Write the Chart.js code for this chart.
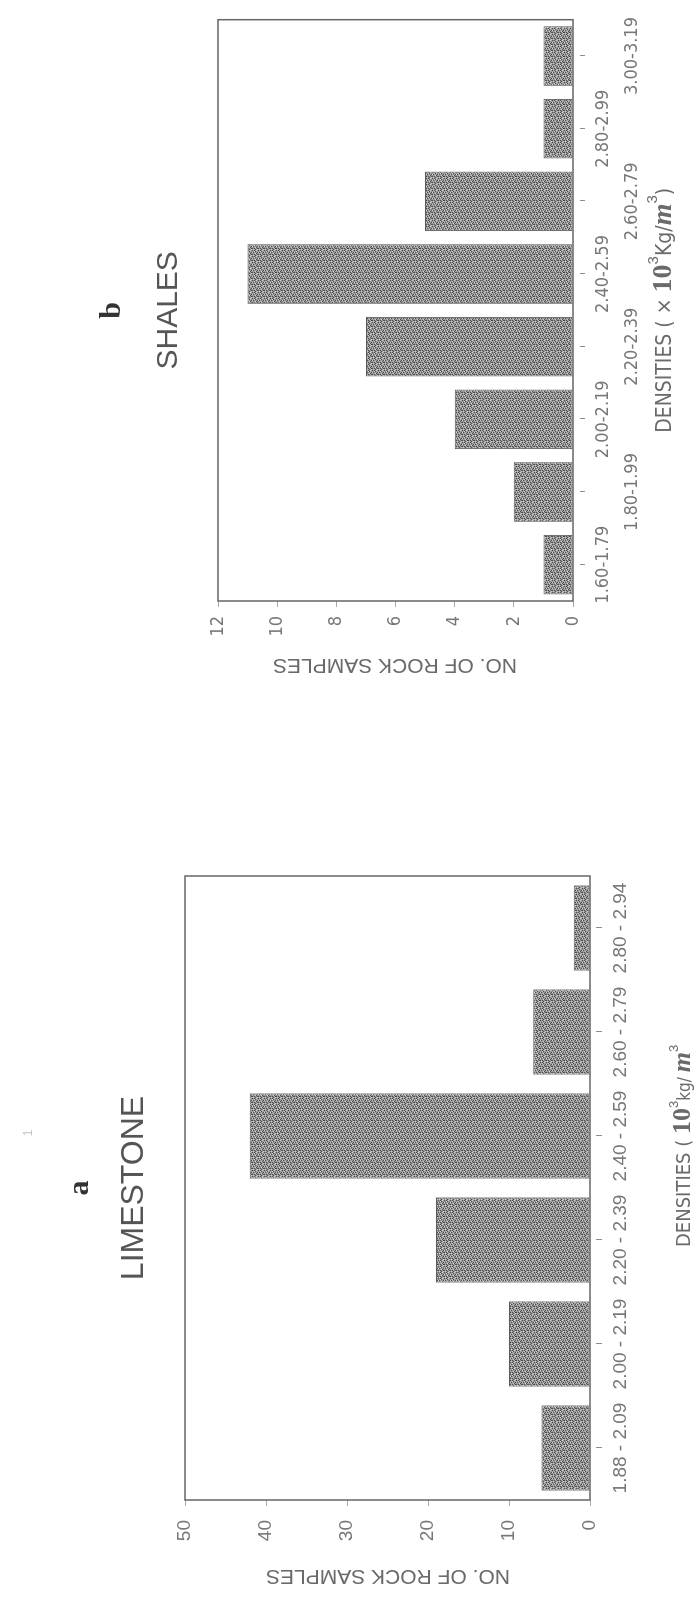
<!DOCTYPE html>
<html>
<head>
<meta charset="utf-8">
<script src="https://cdn.jsdelivr.net/npm/chart.js@4/dist/chart.umd.min.js"></script>
<style>
  html, body { margin: 0; padding: 0; background: #fff; }
  body { width: 698px; height: 1608px; overflow: hidden; position: relative; }
  /* the two histograms sit side by side on a landscape sheet, turned onto the portrait page */
  #sheet { position: absolute; left: 0; top: 0; width: 1608px; height: 698px;
    transform-origin: 0 0; transform: translateY(1608px) rotate(-90deg); }
  #sheet canvas { position: absolute; top: 0; }
  #limeCanvas { left: 0; }
  #shaleCanvas { left: 800px; }
</style>
</head>
<body>
<div id="sheet">
  <canvas id="limeCanvas" width="800" height="698"></canvas>
  <canvas id="shaleCanvas" width="808" height="698"></canvas>
</div>
<script>
// a: limestone
const LIME_CATS = ['1.88 - 2.09', '2.00 - 2.19', '2.20 - 2.39', '2.40 - 2.59', '2.60 - 2.79', '2.80 - 2.94'];
const LIME_COUNTS = [6, 10, 19, 42, 7, 2];
const LIME_MAX = 50, LIME_STEP = 10;

// b: shales
const SHALE_CATS = ['1.60-1.79', '1.80-1.99', '2.00-2.19', '2.20-2.39', '2.40-2.59', '2.60-2.79', '2.80-2.99', '3.00-3.19'];
const SHALE_COUNTS = [1, 2, 4, 7, 11, 5, 1, 1];
const SHALE_MAX = 12, SHALE_STEP = 2;

const SANS = "'Liberation Sans', Arial, sans-serif";
const NARROW = "'Liberation Sans Narrow', 'DejaVu Sans Condensed', 'Liberation Sans', sans-serif";
const SERIF = "'Liberation Serif', 'DejaVu Serif', serif";
const INK = '#6a6a6a';

// per-canvas text and frame bits drawn by the plugin below
const DECOR = {
  limeCanvas: {
    tickGap: 6, tickLen: 6,
    letter: { t: 'a', font: `bold 30px ${SERIF}`, y: 80 },
    name: { t: 'LIMESTONE', font: `32px ${SANS}`, y: 134 },
    yTitle: { t: 'NO. OF ROCK SAMPLES', font: `21px ${SANS}`, x: 32, y: 388 },
    xTitle: {
      x: 361, y: 690, align: 'left', runs: [
        { t: 'DENSITIES ( ', font: `20px ${NARROW}` },
        { t: '10', font: `bold 26px ${SERIF}` },
        { t: '3', font: `13px ${SANS}`, dy: -12 },
        { t: 'kg/ ', font: `17px ${NARROW}` },
        { t: 'm', font: `bold italic 26px ${SERIF}` },
        { t: '3', font: `13px ${SANS}`, dy: -12 },
      ],
    },
    extra: [{ t: '1', font: `12px ${SANS}`, x: 475, y: 29, color: '#c4c4c4' }],
  },
  shaleCanvas: {
    tickGap: 7, tickLen: 5,
    letter: { t: 'b', font: `bold 30px ${SERIF}`, y: 112 },
    name: { t: 'SHALES', font: `30px ${SANS}`, y: 169 },
    yTitle: { t: 'NO. OF ROCK SAMPLES', font: `21px ${SANS}`, x: 143, y: 395 },
    xTitle: {
      align: 'center', y: 671, runs: [
        { t: 'DENSITIES ( × ', font: `21px ${NARROW}` },
        { t: '10', font: `bold 28px ${SERIF}` },
        { t: '3', font: `15px ${SANS}`, dy: -13 },
        { t: 'Kg/', font: `21px ${NARROW}` },
        { t: 'm', font: `bold italic 28px ${SERIF}` },
        { t: '3', font: `15px ${SANS}`, dy: -14 },
        { t: ')', font: `21px ${NARROW}` },
      ],
    },
    extra: [],
  },
};

function drawRuns(ctx, spec, cx) {
  let total = 0;
  spec.runs.forEach(r => { ctx.font = r.font; total += ctx.measureText(r.t).width; });
  let x = spec.align === 'center' ? cx - total / 2 : spec.x;
  ctx.textAlign = 'left';
  ctx.textBaseline = 'alphabetic';
  spec.runs.forEach(r => {
    ctx.font = r.font;
    ctx.fillText(r.t, x, spec.y + (r.dy || 0));
    x += ctx.measureText(r.t).width;
  });
}

const decorPlugin = {
  id: 'decor',
  afterDraw(chart) {
    const d = DECOR[chart.canvas.id];
    if (!d) return;
    const { ctx, chartArea: a } = chart;
    const xs = chart.scales.x;
    const cx = (a.left + a.right) / 2;
    ctx.save();

    // box round the plot
    ctx.strokeStyle = '#666';
    ctx.lineWidth = 1.5;
    ctx.strokeRect(a.left, a.top, a.right - a.left, a.bottom - a.top);

    // category ticks, set off a little from the axis
    ctx.strokeStyle = '#8c8c8c';
    ctx.lineWidth = 1;
    xs.ticks.forEach((t, i) => {
      const px = Math.round(xs.getPixelForTick(i)) + 0.5;
      ctx.beginPath();
      ctx.moveTo(px, a.bottom + d.tickGap);
      ctx.lineTo(px, a.bottom + d.tickGap + d.tickLen);
      ctx.stroke();
    });

    ctx.textAlign = 'center';
    ctx.textBaseline = 'middle';
    ctx.fillStyle = '#333';
    ctx.font = d.letter.font;
    ctx.fillText(d.letter.t, cx, d.letter.y);
    ctx.fillStyle = '#555';
    ctx.font = d.name.font;
    ctx.fillText(d.name.t, cx, d.name.y);

    ctx.fillStyle = INK;
    ctx.save();
    ctx.translate(d.yTitle.x, d.yTitle.y);
    ctx.rotate(-Math.PI / 2);
    ctx.font = d.yTitle.font;
    ctx.fillText(d.yTitle.t, 0, 0);
    ctx.restore();

    ctx.fillStyle = INK;
    drawRuns(ctx, d.xTitle, cx);

    d.extra.forEach(e => {
      ctx.fillStyle = e.color;
      ctx.font = e.font;
      ctx.textAlign = 'center';
      ctx.textBaseline = 'middle';
      ctx.fillText(e.t, e.x, e.y);
    });
    ctx.restore();
  },
};

// speckled grey fill of the bars (6x6 tile)
const SPECKLE = [
  '.#.o.#',
  'o..#..',
  '.#..o#',
  '#.o.#.',
  '..#..o',
  'o#.#..',
];
function stipple() {
  const c = document.createElement('canvas');
  c.width = 6; c.height = 6;
  const g = c.getContext('2d');
  const shade = { '.': '#9a9a9a', '#': '#4e4e4e', 'o': '#cfcfcf' };
  SPECKLE.forEach((row, y) => {
    [...row].forEach((ch, x) => { g.fillStyle = shade[ch]; g.fillRect(x, y, 1, 1); });
  });
  return g.createPattern(c, 'repeat');
}

function histogram(canvasId, o) {
  const el = document.getElementById(canvasId);
  return new Chart(el, {
    type: 'bar',
    data: {
      labels: o.labels,
      datasets: [{
        data: o.values,
        backgroundColor: stipple(),
        borderColor: '#5a5a5a',
        borderWidth: 1,
        borderSkipped: false,
        barPercentage: 0.82,
        categoryPercentage: 1.0,
      }],
    },
    options: {
      responsive: false,
      animation: false,
      layout: { padding: o.padding },
      plugins: { legend: { display: false }, tooltip: { enabled: false }, title: { display: false } },
      scales: {
        x: {
          grid: { display: false, drawTicks: false },
          border: { display: false },
          ticks: {
            autoSkip: false, maxRotation: 0, minRotation: 0,
            padding: o.xPad, color: '#777',
            font: { family: o.xFamily, size: o.xSize, lineHeight: o.xLine },
          },
          afterFit: s => { s.height = o.xHeight; },
        },
        y: {
          min: 0, max: o.max,
          grid: { drawOnChartArea: false, drawTicks: true, tickLength: 6, color: '#a8a8a8' },
          border: { display: false },
          ticks: {
            stepSize: o.step, padding: o.yPad, color: '#777',
            font: { family: o.yFamily, size: o.ySize },
          },
          afterFit: s => { s.width = 60; },
        },
      },
    },
    plugins: [decorPlugin],
  });
}

// plot box: left 108, right 732, top 185, bottom 590
histogram('limeCanvas', {
  labels: LIME_CATS,
  values: LIME_COUNTS,
  max: LIME_MAX, step: LIME_STEP,
  padding: { left: 48, right: 68, top: 185, bottom: 48 },
  xHeight: 60, xPad: 19, xFamily: SANS, xSize: 19, xLine: 1.2,
  yPad: 14, yFamily: SANS, ySize: 19,
});

// plot box: left 207, right 791, top 218, bottom 573; labels alternate between two rows
histogram('shaleCanvas', {
  labels: SHALE_CATS.map((c, i) => (i % 2 ? ['', c] : c)),
  values: SHALE_COUNTS,
  max: SHALE_MAX, step: SHALE_STEP,
  padding: { left: 147, right: 17, top: 218, bottom: 55 },
  xHeight: 70, xPad: 16, xFamily: NARROW, xSize: 18, xLine: 1.6,
  yPad: 9, yFamily: NARROW, ySize: 18,
});
</script>
</body>
</html>
